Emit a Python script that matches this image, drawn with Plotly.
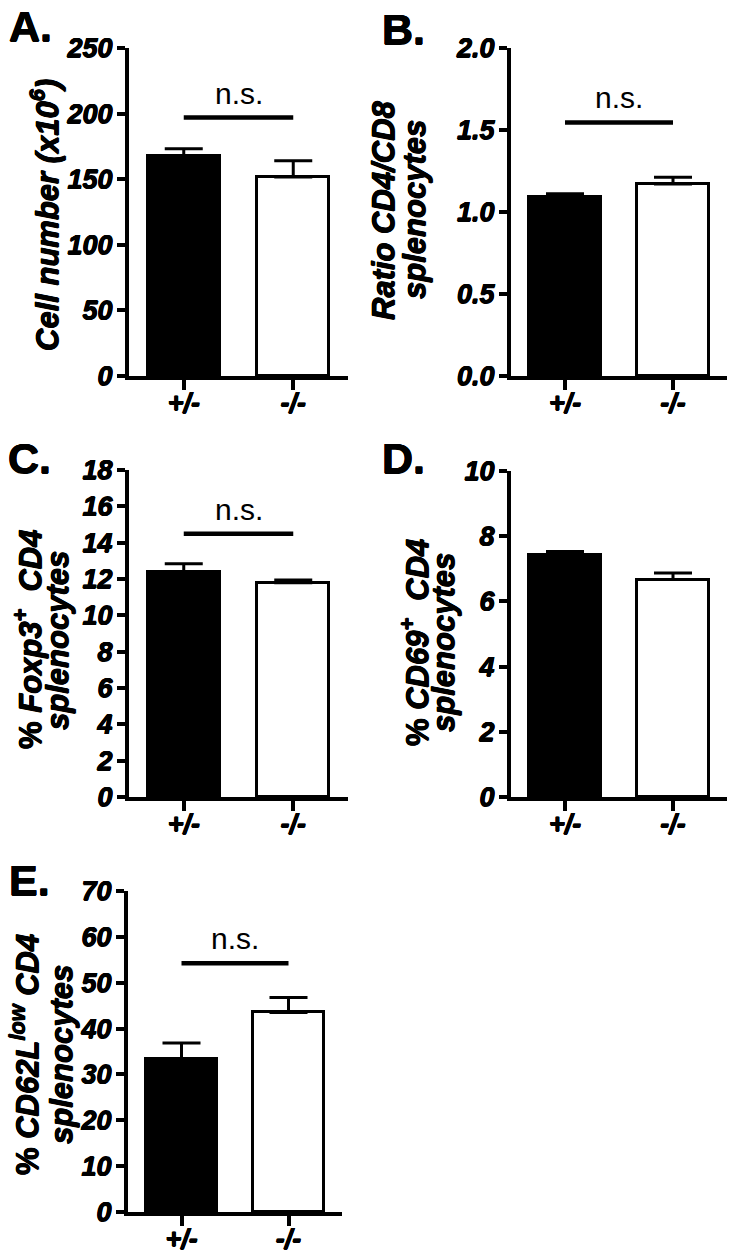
import plotly.graph_objects as go

W, H = 734, 1254
FONT = "Arial, Liberation Sans, sans-serif"
HEAVY = "0.5px 0 0 black, -0.5px 0 0 black, 0 0.5px 0 black, 0 -0.5px 0 black"

categories = ["+/-", "-/-"]

# Panel A: cell number (x10^6)
a_values = [167.4, 151.7]
a_errors = [5.9, 12.4]
a_ticks = [0, 50, 100, 150, 200, 250]
a_ticktext = ["0", "50", "100", "150", "200", "250"]
a_ns = 197

# Panel B: ratio CD4/CD8
b_values = [1.092, 1.171]
b_errors = [0.020, 0.041]
b_ticks = [0.0, 0.5, 1.0, 1.5, 2.0]
b_ticktext = ["0.0", "0.5", "1.0", "1.5", "2.0"]
b_ns = 1.546

# Panel C: % Foxp3+ CD4
c_values = [12.40, 11.80]
c_errors = [0.44, 0.14]
c_ticks = [0, 2, 4, 6, 8, 10, 12, 14, 16, 18]
c_ticktext = ["0", "2", "4", "6", "8", "10", "12", "14", "16", "18"]
c_ns = 14.49

# Panel D: % CD69+ CD4
d_values = [7.43, 6.67]
d_errors = [0.10, 0.20]
d_ticks = [0, 2, 4, 6, 8, 10]
d_ticktext = ["0", "2", "4", "6", "8", "10"]
d_ns = None

# Panel E: % CD62L low CD4
e_values = [33.45, 43.53]
e_errors = [3.41, 3.27]
e_ticks = [0, 10, 20, 30, 40, 50, 60, 70]
e_ticktext = ["0", "10", "20", "30", "40", "50", "60", "70"]
e_ns = 54.27

bar_colors = ["black", "white"]

PCT = "<span style='font-style:normal'>%</span>"

panels = [
    dict(letter="A.", values=a_values, errors=a_errors, ticks=a_ticks, ticktext=a_ticktext, ns=a_ns,
         xd=(129, 348), yd=(48, 376),
         titles=[("Cell number (x10<sup>6</sup>)", 45)], title_y=215,
         letter_pos=(7, 0)),
    dict(letter="B.", values=b_values, errors=b_errors, ticks=b_ticks, ticktext=b_ticktext, ns=b_ns,
         xd=(511, 727), yd=(48, 376),
         titles=[("Ratio CD4/CD8", 384), ("splenocytes", 415)], title_y=210,
         letter_pos=(380, 3)),
    dict(letter="C.", values=c_values, errors=c_errors, ticks=c_ticks, ticktext=c_ticktext, ns=c_ns,
         xd=(129, 348), yd=(470, 797),
         titles=[(PCT + " Foxp3<sup>+</sup>&nbsp; CD4", 28), ("splenocytes", 57)],
         title_y=640, letter_pos=(6, 432)),
    dict(letter="D.", values=d_values, errors=d_errors, ticks=d_ticks, ticktext=d_ticktext, ns=d_ns,
         xd=(511, 727), yd=(471, 797),
         titles=[(PCT + " CD69<sup>+</sup>&nbsp; CD4", 415), ("splenocytes", 443)],
         title_y=643, letter_pos=(380, 432)),
    dict(letter="E.", values=e_values, errors=e_errors, ticks=e_ticks, ticktext=e_ticktext, ns=e_ns,
         xd=(128, 342), yd=(891, 1212),
         titles=[(PCT + " CD62L<sup>low</sup> CD4", 25), ("splenocytes", 61)],
         title_y=1055, letter_pos=(7, 854)),
]

fig = go.Figure()
layout = dict(width=W, height=H, margin=dict(l=0, r=0, t=0, b=0, pad=0, autoexpand=False),
              paper_bgcolor="white", plot_bgcolor="white", showlegend=False,
              annotations=[], bargap=0)

tickfont = dict(family=FONT, size=27, color="black", weight="bold", style="italic", shadow=HEAVY)

for i, p in enumerate(panels):
    n = i + 1
    xa = "xaxis" if n == 1 else f"xaxis{n}"
    ya = "yaxis" if n == 1 else f"yaxis{n}"
    xr = "x" if n == 1 else f"x{n}"
    yr = "y" if n == 1 else f"y{n}"
    x0, x1 = p["xd"]
    ytop, ybot = p["yd"]
    layout[xa] = dict(domain=[x0 / W, x1 / W], anchor=yr, type="category",
                      categoryorder="array", categoryarray=categories,
                      range=[-0.5, 1.5], showline=True, linecolor="black", linewidth=4,
                      ticks="outside", ticklen=10, tickwidth=4, tickcolor="black",
                      tickfont=tickfont, ticklabelstandoff=-10,
                      showgrid=False, zeroline=False, fixedrange=True, automargin=False)
    layout[ya] = dict(domain=[1 - ybot / H, 1 - ytop / H], anchor=xr,
                      range=[0, p["ticks"][-1]], tickmode="array", tickvals=p["ticks"],
                      ticktext=p["ticktext"], showline=True, linecolor="black", linewidth=4,
                      ticks="outside", ticklen=8, tickwidth=4, tickcolor="black",
                      tickfont=tickfont, ticklabelstandoff=-1,
                      showgrid=False, zeroline=False, fixedrange=True, automargin=False)

    fig.add_trace(go.Bar(
        x=categories, y=p["values"], width=0.66,
        marker=dict(color=bar_colors, line=dict(color="black", width=3)),
        error_y=dict(type="data", symmetric=False, array=p["errors"], arrayminus=[0, 0],
                     color="black", thickness=3, width=19),
        xaxis=xr, yaxis=yr, hoverinfo="skip"))

    if p["ns"] is not None:
        fig.add_trace(go.Scatter(x=categories, y=[p["ns"], p["ns"]], mode="lines",
                                 line=dict(color="black", width=4.5),
                                 xaxis=xr, yaxis=yr, hoverinfo="skip"))
        layout["annotations"].append(dict(
            text="n.s.", x=0.5, y=p["ns"], xref=xr, yref=yr, xanchor="center",
            yanchor="bottom", yshift=6, showarrow=False,
            font=dict(family=FONT, size=30, color="black")))

    for txt, px in p["titles"]:
        layout["annotations"].append(dict(
            text=txt, x=px / W, y=1 - p["title_y"] / H, xref="paper", yref="paper",
            xanchor="center", yanchor="middle", textangle=-90, showarrow=False,
            font=dict(family=FONT, size=31, color="black", weight="bold", style="italic",
                      shadow=HEAVY)))

    lx, ly = p["letter_pos"]
    layout["annotations"].append(dict(
        text=p["letter"], x=lx / W, y=1 - ly / H, xref="paper", yref="paper",
        xanchor="left", yanchor="top", showarrow=False,
        font=dict(family=FONT, size=43, color="black", weight="bold", shadow=HEAVY)))

fig.update_layout(**layout)
fig.write_html("out.html", config={"displayModeBar": False},
               post_script="document.body.style.margin='0';document.body.style.overflow='hidden';")
